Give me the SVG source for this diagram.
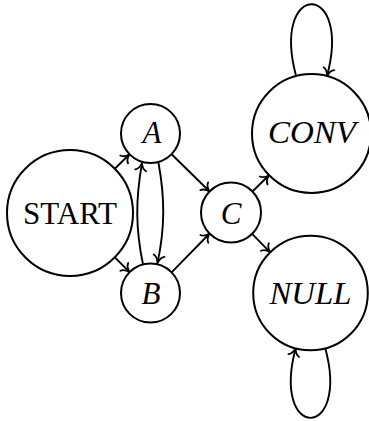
<svg xmlns="http://www.w3.org/2000/svg" width="369" height="421" viewBox="0 0 369 421">
  <style>
    .node { fill: #fff; stroke: #000; stroke-width: 2; }
    .edge { fill: none; stroke: #000; stroke-width: 1.9; marker-end: url(#arr); }
    .lbl { font-family: "Liberation Serif", "Times New Roman", serif; font-size: 31px; fill: #000; text-anchor: middle; }
    .it { font-style: italic; }
  </style>
  <defs>
    <marker id="arr" viewBox="-10 -8 12 16" refX="0" refY="0" markerWidth="12" markerHeight="16" orient="auto" markerUnits="userSpaceOnUse">
      <path d="M -7.5,-5.5 C -6.4,-2.5 -2.5,-0.6 0,0 C -2.5,0.6 -6.4,2.5 -7.5,5.5" fill="none" stroke="#000" stroke-width="1.8" stroke-linecap="round" stroke-linejoin="round"/>
    </marker>
  </defs>

  <g id="connectors">
    <path class="edge" d="M 114.8,168.7 L 129.5,154.2"/>
    <path class="edge" d="M 114.8,257.3 L 129.6,272.2"/>
    <path class="edge" d="M 143,264.5 C 135.5,228 135.5,200 142,163"/>
    <path class="edge" d="M 158.5,163 C 165,198 165,228 157.5,263"/>
    <path class="edge" d="M 171.6,154.2 L 209.6,191.5"/>
    <path class="edge" d="M 171.6,272.4 L 209.6,233.5"/>
    <path class="edge" d="M 252.4,191.5 L 269,175.2"/>
    <path class="edge" d="M 252.1,233.8 L 270.2,252.3"/>
    <path class="edge" d="M 296.1,76 C 270.5,-19.6 352.6,-19.6 327,76"/>
    <path class="edge" d="M 325.3,348.3 C 350.2,441 270.8,441 295.7,348.3"/>
  </g>

  <g id="START">
    <circle class="node" cx="70" cy="213" r="63"/>
    <text class="lbl" x="70" y="223.5" textLength="94" lengthAdjust="spacingAndGlyphs">START</text>
  </g>
  <g id="A">
    <circle class="node" cx="150.5" cy="133.5" r="29.5"/>
    <text class="lbl it" x="152" y="143">A</text>
  </g>
  <g id="B">
    <circle class="node" cx="150.5" cy="293" r="29.5"/>
    <text class="lbl it" x="151" y="303.5">B</text>
  </g>
  <g id="C">
    <circle class="node" cx="231" cy="212.5" r="30"/>
    <text class="lbl it" x="231" y="224">C</text>
  </g>
  <g id="CONV">
    <circle class="node" cx="311.5" cy="133.5" r="59.5"/>
    <text class="lbl it" x="312" y="143" textLength="88" lengthAdjust="spacingAndGlyphs">CONV</text>
  </g>
  <g id="NULL">
    <circle class="node" cx="310.5" cy="293" r="57.3"/>
    <text class="lbl it" x="310.5" y="304" textLength="82" lengthAdjust="spacingAndGlyphs">NULL</text>
  </g>
</svg>
